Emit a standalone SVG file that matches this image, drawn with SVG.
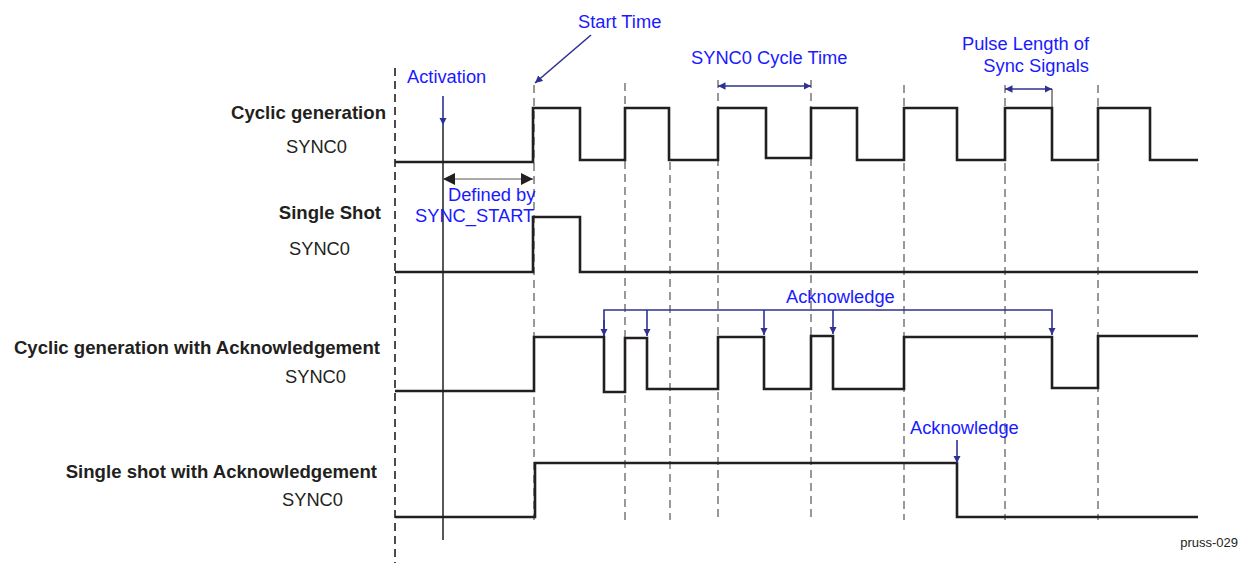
<svg xmlns="http://www.w3.org/2000/svg" width="1244" height="563" viewBox="0 0 1244 563">
<style>
.lbl{font-family:"Liberation Sans",Arial,sans-serif;font-size:18.3px;fill:#231f20}
.b{font-weight:bold;font-size:18.6px}
.blue{font-family:"Liberation Sans",Arial,sans-serif;font-size:18.3px;fill:#1a1aff}
.sig{fill:none;stroke:#231f20;stroke-width:2.6;stroke-linejoin:miter}
.grid{stroke:#333;stroke-width:1;stroke-dasharray:8 5;fill:none}
.nav{stroke:#2e3192;stroke-width:1.6;fill:none}
</style>
<defs>
<marker id="ah" viewBox="0 0 10 10" refX="10" refY="5" markerWidth="7.5" markerHeight="7.5" markerUnits="userSpaceOnUse" orient="auto-start-reverse"><path d="M0,0 L10,5 L0,10 z" fill="#2e3192"/></marker>
<marker id="ak" viewBox="0 0 10 10" refX="10" refY="5" markerWidth="12" markerHeight="12" markerUnits="userSpaceOnUse" orient="auto-start-reverse"><path d="M0,0 L10,5 L0,10 z" fill="#231f20"/></marker>
</defs>
<rect width="1244" height="563" fill="#fff"/>

<g id="grid">
<line class="grid" x1="395" y1="68" x2="395" y2="563" style="stroke:#231f20;stroke-width:1.6"/>
<line class="grid" x1="534" y1="85" x2="534" y2="520"/>
<line class="grid" x1="625" y1="83" x2="625" y2="520"/>
<line class="grid" x1="670" y1="162" x2="670" y2="520"/>
<line class="grid" x1="718" y1="80" x2="718" y2="520"/>
<line class="grid" x1="811" y1="80" x2="811" y2="520"/>
<line class="grid" x1="904" y1="85" x2="904" y2="520"/>
<line class="grid" x1="1005" y1="85" x2="1005" y2="520"/>
<line class="grid" x1="1098" y1="85" x2="1098" y2="520"/>
</g>

<g id="labels">
<text class="lbl b" x="386" y="119" text-anchor="end">Cyclic generation</text>
<text class="lbl" x="286" y="153">SYNC0</text>
<text class="lbl b" x="381" y="219" text-anchor="end">Single Shot</text>
<text class="lbl" x="289" y="255">SYNC0</text>
<text class="lbl b" x="380" y="354" text-anchor="end">Cyclic generation with Acknowledgement</text>
<text class="lbl" x="285" y="383">SYNC0</text>
<text class="lbl b" x="377" y="478" text-anchor="end">Single shot with Acknowledgement</text>
<text class="lbl" x="282" y="506">SYNC0</text>
<text x="1238" y="547" text-anchor="end" style="font-family:'Liberation Sans',Arial,sans-serif;font-size:13px;fill:#231f20">pruss-029</text>
</g>

<g id="signals">
<path id="sig-cyclic" class="sig" d="M395,162 H533 V108 H580 V160 H625 V108 H669 V160 H718 V108 H766 V158 H811 V108 H857 V160 H904 V108 H957 V160 H1005 V108 H1052 V160 H1098 V108 H1150 V160 H1198"/>
<path id="sig-single" class="sig" d="M395,272 H533 V217 H580 V272 H1198"/>
<path id="sig-cyclic-ack" class="sig" d="M395,391 H534 V337 H604 V392 H625 V338 H647 V389 H718 V337 H764 V389 H811 V336 H833 V389 H904 V337 H1052 V388 H1098 V336 H1198"/>
<path id="sig-single-ack" class="sig" d="M395,517 H535 V463 H957 V517 H1198"/>
</g>

<g id="connectors">
<line x1="443" y1="125" x2="443" y2="540" stroke="#231f20" stroke-width="1.5"/>
<line class="nav" x1="443" y1="96" x2="443" y2="125" marker-end="url(#ah)"/>
<line class="nav" x1="591" y1="35" x2="535" y2="83" marker-end="url(#ah)"/>
<line x1="443" y1="179" x2="533" y2="179" stroke="#555" stroke-width="1.2" marker-start="url(#ak)" marker-end="url(#ak)"/>
<line class="nav" x1="718" y1="86" x2="811" y2="86" marker-start="url(#ah)" marker-end="url(#ah)"/>
<line class="nav" x1="1005" y1="89" x2="1052" y2="89" marker-start="url(#ah)" marker-end="url(#ah)"/>
<line x1="1052" y1="89" x2="1052" y2="108" stroke="#231f20" stroke-width="1"/>
<path class="nav" d="M604,336 V310 H1052 V335" marker-end="url(#ah)"/>
<line class="nav" x1="604" y1="320" x2="604" y2="336" marker-end="url(#ah)"/>
<line class="nav" x1="647" y1="310" x2="647" y2="336" marker-end="url(#ah)"/>
<line class="nav" x1="764" y1="310" x2="764" y2="335" marker-end="url(#ah)"/>
<line class="nav" x1="833" y1="310" x2="833" y2="334" marker-end="url(#ah)"/>
<line class="nav" x1="957" y1="440" x2="957" y2="463" marker-end="url(#ah)"/>
</g>

<g id="annotations">
<text class="blue" x="407" y="83">Activation</text>
<text class="blue" x="578" y="28">Start Time</text>
<text class="blue" x="691" y="64">SYNC0 Cycle Time</text>
<text class="blue" x="1089" y="50" text-anchor="end">Pulse Length of</text>
<text class="blue" x="1089" y="72" text-anchor="end">Sync Signals</text>
<text class="blue" x="448" y="201">Defined by</text>
<text class="blue" x="415" y="222">SYNC_START</text>
<text class="blue" x="786" y="303">Acknowledge</text>
<text class="blue" x="910" y="434">Acknowledge</text>
</g>
</svg>
